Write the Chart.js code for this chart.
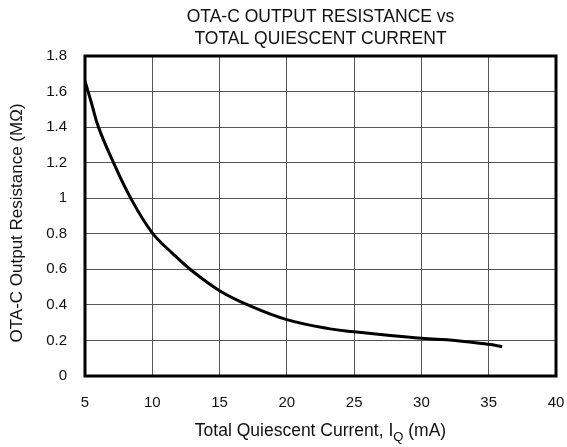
<!DOCTYPE html>
<html>
<head>
<meta charset="utf-8">
<script src="https://cdn.jsdelivr.net/npm/chart.js@4"></script>
<style>
  html, body { margin: 0; padding: 0; background: #fff; }
  #wrap { width: 567px; height: 447px; }
</style>
</head>
<body>
<div id="wrap"><canvas id="grafico" width="567" height="447"></canvas></div>
<script>
// datos
const corriente = [5.0, 5.5, 6.0, 7.0, 8.4, 10.0, 11.5, 12.9, 15.0, 17.1, 20.0, 23.2, 25.0, 27.5, 30.0, 32.5, 35.0, 36.0];
const resistencia = [1.66, 1.53, 1.4, 1.22, 1.0, 0.805, 0.69, 0.595, 0.48, 0.4, 0.317, 0.265, 0.249, 0.229, 0.212, 0.2, 0.178, 0.165];
const ticksX = [5, 10, 15, 20, 25, 30, 35, 40];
const ticksY = [0, 0.2, 0.4, 0.6, 0.8, 1, 1.2, 1.4, 1.6, 1.8];
const tituloLineas = ["OTA-C OUTPUT RESISTANCE vs", "TOTAL QUIESCENT CURRENT"];
const tituloY = "OTA-C Output Resistance (M\u03A9)";

const fuente = '"Liberation Sans", Arial, Helvetica, sans-serif';

// textos, borde y titulo del eje X con subindice
const extras = {
  id: "extras",
  afterDraw(chart) {
    const c = chart.ctx;
    const a = chart.chartArea;
    const cx = (a.left + a.right) / 2;
    c.save();
    // borde grueso
    c.strokeStyle = "#000";
    c.lineWidth = 3;
    c.strokeRect(a.left, a.top, a.right - a.left, a.bottom - a.top);

    c.fillStyle = "#111";
    c.textAlign = "center";
    c.textBaseline = "middle";
    c.font = "17.5px " + fuente;
    c.fillText(tituloLineas[0], cx, 17);
    c.fillText(tituloLineas[1], cx, 39);

    // titulo eje X: Total Quiescent Current, I_Q (mA)
    const p1 = "Total Quiescent Current, I";
    const p3 = " (mA)";
    c.font = "17.5px " + fuente;
    const w1 = c.measureText(p1).width;
    const w3 = c.measureText(p3).width;
    c.font = "13px " + fuente;
    const w2 = c.measureText("Q").width;
    let x = cx - (w1 + w2 + w3) / 2;
    const y = 431;
    c.textAlign = "left";
    c.font = "17.5px " + fuente;
    c.fillText(p1, x, y);
    x += w1;
    c.font = "13px " + fuente;
    c.fillText("Q", x, y + 6);
    x += w2;
    c.font = "17.5px " + fuente;
    c.fillText(p3, x, y);

    // titulo eje Y
    c.translate(17, 223);
    c.rotate(-Math.PI / 2);
    c.textAlign = "center";
    c.font = "17px " + fuente;
    c.fillText(tituloY, 0, 0);
    c.restore();
  }
};

const ctx = document.querySelector("#grafico");
const grafica = new Chart(ctx, {
  type: "line",
  data: {
    datasets: [
      {
        data: corriente.map((v, i) => ({ x: v, y: resistencia[i] })),
        borderColor: "#000",
        borderWidth: 3,
        pointRadius: 0,
        tension: 0.4,
        fill: false,
      },
    ],
  },
  options: {
    responsive: false,
    animation: false,
    layout: { padding: { top: 56, right: 11, bottom: 0, left: 0 } },
    plugins: { legend: { display: false }, tooltip: { enabled: false } },
    scales: {
      x: {
        type: "linear",
        min: 5,
        max: 40,
        afterFit: (s) => {
          s.height = 71;
          s.paddingRight = 0;
          s.paddingLeft = 0;
        },
        afterBuildTicks: (s) => { s.ticks = ticksX.map((v) => ({ value: v })); },
        grid: { color: "#555", lineWidth: 1, drawTicks: false },
        border: { display: false },
        ticks: { color: "#111", padding: 18, font: { family: fuente, size: 15 }, maxRotation: 0 },
      },
      y: {
        min: 0,
        max: 1.8,
        afterFit: (s) => {
          s.width = 85;
          s.paddingTop = 0;
          s.paddingBottom = 0;
        },
        afterBuildTicks: (s) => { s.ticks = ticksY.map((v) => ({ value: v })); },
        grid: { color: "#555", lineWidth: 1, drawTicks: false },
        border: { display: false },
        ticks: {
          color: "#111",
          padding: 18,
          font: { family: fuente, size: 15 },
          callback: (v) => String(+v.toFixed(1)),
        },
      },
    },
  },
  plugins: [extras],
});
</script>
</body>
</html>
